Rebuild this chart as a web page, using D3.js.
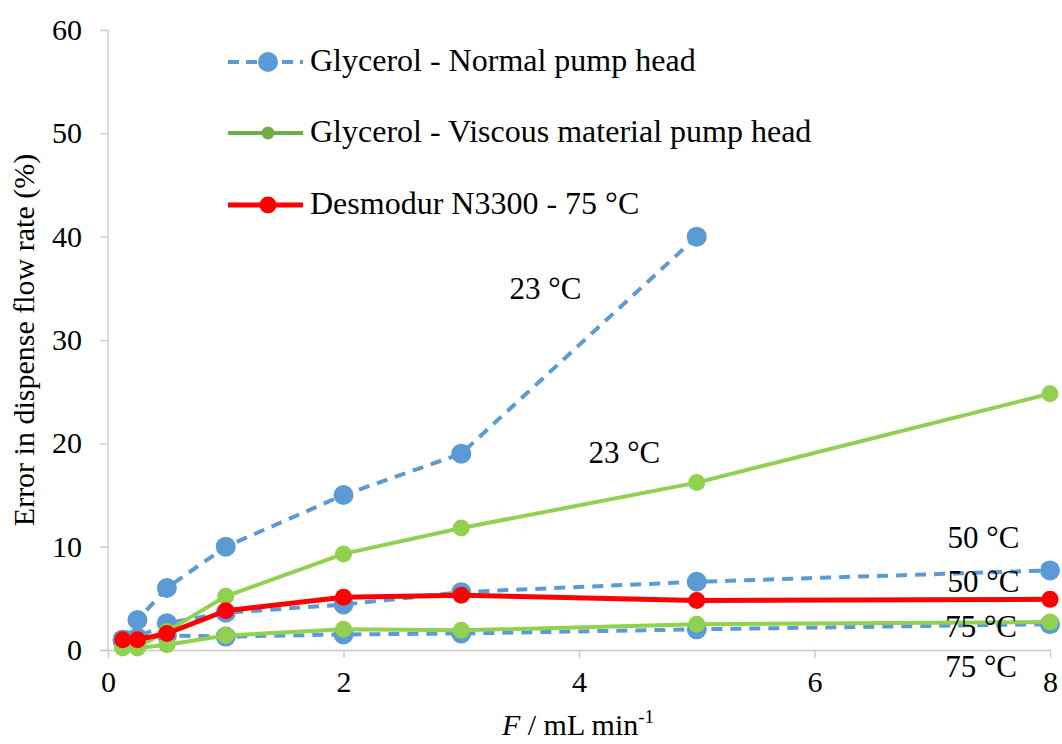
<!DOCTYPE html>
<html><head><meta charset="utf-8">
<script src="https://cdn.jsdelivr.net/npm/d3@7"></script>
<style>
body{margin:0;background:#fff;}
text{font-family:"Liberation Serif","Times New Roman",serif;fill:#000;}
</style></head>
<body><svg id="c" width="1062" height="744"></svg>
<script>
const flowBlue = [0.125, 0.25, 0.5, 1, 2, 3, 5, 8];
const blue23 = [1.0, 2.9, 6.0, 10.0, 15.0, 19.0, 40.0];
const blue50 = [1.0, 1.2, 2.6, 3.6, 4.4, 5.6, 6.6, 7.7];
const blue75 = [0.9, 1.0, 1.4, 1.3, 1.5, 1.6, 2.0, 2.5];
const green23 = [0.3, 0.3, 1.8, 5.2, 9.3, 11.8, 16.2, 24.8];
const green75 = [0.2, 0.2, 0.5, 1.4, 2.0, 1.9, 2.5, 2.7];
const red75 = [1.0, 1.0, 1.6, 3.8, 5.1, 5.3, 4.8, 4.9];
const xTicks = [0, 2, 4, 6, 8];
const yTicks = [0, 10, 20, 30, 40, 50, 60];
const legendNames = ["Glycerol - Normal pump head", "Glycerol - Viscous material pump head", "Desmodur N3300 - 75 °C"];
const tempLabels = [
  {t:"23 °C", x:3.41, y:34.0},
  {t:"23 °C", x:4.08, y:18.1},
  {t:"50 °C", x:7.13, y:9.9},
  {t:"50 °C", x:7.13, y:5.6},
  {t:"75 °C", x:7.11, y:1.25},
  {t:"75 °C", x:7.11, y:-2.6}
];

const svg = d3.select("#c");
const x = d3.scaleLinear().domain([0, 8]).range([108, 1050]);
const y = d3.scaleLinear().domain([0, 60]).range([650, 30]);

// axes
const gy = svg.append("g").attr("transform","translate(108,0)")
  .call(d3.axisLeft(y).tickValues(yTicks).tickSize(8).tickPadding(18));
const gx = svg.append("g").attr("transform","translate(0,650)")
  .call(d3.axisBottom(x).tickValues(xTicks).tickSize(8).tickPadding(13));
[gy, gx].forEach(g=>{
  g.selectAll("path").attr("stroke","#c8c8c8").attr("stroke-width",1.3);
  g.selectAll("line").attr("stroke","#c8c8c8").attr("stroke-width",1.3);
  g.selectAll("text").style("font-size","30px").attr("fill","#000")
   .style("font-family",'"Liberation Serif",serif');
});
gy.select(".domain").attr("d","M0,30V650");
gx.select(".domain").attr("d","M100,0.5H1050");

const blueC = "#5b9bd5", greenC = "#92d050", greenLeg = "#70ad47", redC = "#ff0000";
const line = d3.line().x(d=>x(d[0])).y(d=>y(d[1]));

function series(vals, color, dash, w, r){
  const pts = vals.map((v,i)=>[flowBlue[i], v]);
  svg.append("path").datum(pts).attr("d", line).attr("fill","none")
    .attr("stroke", color).attr("stroke-width", w)
    .attr("stroke-dasharray", dash || null).attr("stroke-linejoin","round");
  svg.append("g").selectAll("circle").data(pts).join("circle")
    .attr("cx", d=>x(d[0])).attr("cy", d=>y(d[1])).attr("r", r).attr("fill", color);
}
series(blue75, blueC, "11,8", 4, 10);
series(blue50, blueC, "11,8", 4, 10);
series(blue23, blueC, "11,8", 4, 10);
series(green75, greenC, null, 4, 8.5);
series(green23, greenC, null, 4, 8.5);
series(red75, redC, null, 5, 8.5);

// temperature labels
svg.append("g").selectAll("text").data(tempLabels).join("text")
  .attr("x", d=>x(d.x)).attr("y", d=>y(d.y)).style("font-size","31px").text(d=>d.t);

// legend
const leg = [
  {c:blueC, dash:"11,7", r:10, w:4},
  {c:greenLeg, dash:null, r:6.5, w:4},
  {c:redC, dash:null, r:8.5, w:5}
];
const ly = [62, 133, 205];
leg.forEach((l,i)=>{
  const g = svg.append("g");
  g.append("line").attr("x1",228).attr("x2",303).attr("y1",ly[i]).attr("y2",ly[i])
    .attr("stroke",l.c).attr("stroke-width",l.w).attr("stroke-dasharray",l.dash);
  g.append("circle").attr("cx",268).attr("cy",ly[i]).attr("r",l.r).attr("fill",l.c);
  g.append("text").attr("x",310).attr("y",ly[i]+9).style("font-size","32px").text(legendNames[i]);
});

// axis titles
svg.append("text").attr("transform","translate(34,340) rotate(-90)")
  .attr("text-anchor","middle").style("font-size","30px").text("Error in dispense flow rate (%)");
const xt = svg.append("text").attr("x",578).attr("y",735).attr("text-anchor","middle").style("font-size","30px");
xt.append("tspan").style("font-style","italic").text("F");
xt.append("tspan").text(" / mL min");
xt.append("tspan").attr("dy",-12).style("font-size","19px").text("-1");
</script></body></html>
